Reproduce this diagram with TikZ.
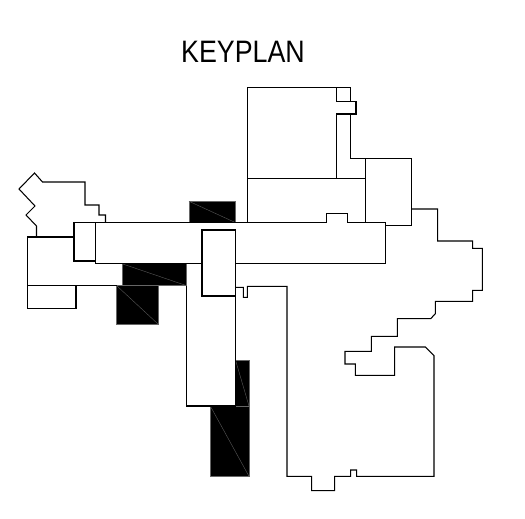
\documentclass[tikz,border=0pt]{standalone}
\usepackage{fontspec}
\setmainfont{Liberation Sans}
\tikzset{
    planline/.style={draw=black, line width=1.05pt, line join=miter},
    blockfill/.style={fill=black, draw=black!60, line width=0.6pt},
    blockdiag/.style={draw=black!65, line width=0.4pt}
}
\begin{document}
\begin{tikzpicture}[x=1pt, y=-1pt]
    \useasboundingbox[fill=white] (0,0) rectangle (525,519);

    % Title
    \node[font=\fontsize{31}{31}\selectfont, inner sep=0pt, xscale=0.865] (title) at (243,52.2) {KEYPLAN};

    % Black blocks
    \fill[blockfill] (189,201.3) rectangle (235.7,222.7);
    \draw[blockdiag] (189,201.3) -- (235.7,222.7);
    \fill[blockfill] (122,263.7) rectangle (186.7,285.7);
    \draw[blockdiag] (122,263.7) -- (186.7,285.7);
    \fill[blockfill] (116.7,285.7) rectangle (158.3,324.3);
    \draw[blockdiag] (116.7,285.7) -- (158.3,324.3);
    \fill[blockfill] (235.7,360.7) rectangle (249,406);
    \draw[blockdiag] (235.7,360.7) -- (249,406);
    \fill[blockfill] (210.3,406) rectangle (249,476.3);
    \draw[blockdiag] (210.3,406) -- (249,476.3);

    % West wing
    \draw[planline] (36.5,237) -- (36.5,226) -- (26,215) -- (35,206) -- (19,189) -- (34.5,173)
        -- (42.5,182) -- (85,182) -- (85,205) -- (99,205) -- (99,215) -- (105.5,215) -- (105.5,222.5);
    \draw[planline] (95.5,222.5) -- (74,222.5) -- (74,261) -- (95.5,261);
    \draw[planline] (74,237) -- (27.5,237) -- (27.5,308.5) -- (76,308.5) -- (76,285.5);
    \draw[planline] (27.5,285.5) -- (116.7,285.5);

    % Corridor
    \draw[planline] (95.5,222.7) -- (326.7,222.7) -- (326.7,213.7) -- (347.7,213.7) -- (347.7,222.7)
        -- (385.7,222.7) -- (385.7,263.5) -- (235.7,263.5);
    \draw[planline] (202,263.5) -- (95.5,263.5) -- (95.5,222.7);

    % Centre boxes
    \draw[planline] (202,230) rectangle (235.7,296);
    \draw[planline] (186.7,285.7) -- (186.7,406) -- (235.7,406) -- (235.7,296);

    % North wing
    \draw[planline] (247.3,222.7) -- (247.3,87.3) -- (350.7,87.3) -- (350.7,101.3);
    \draw[planline] (336.3,87.3) -- (336.3,101.3) -- (356,101.3) -- (356,114) -- (336.3,114) -- (336.3,178.3);
    \draw[planline] (350.7,114) -- (350.7,158.7) -- (411.7,158.7) -- (411.7,225.7) -- (385.7,225.7);
    \draw[planline] (247.3,178.3) -- (365.7,178.3);
    \draw[planline] (365.7,158.7) -- (365.7,222.7);

    % East wing
    \draw[planline] (235.7,287.3) -- (243.3,287.3) -- (243.3,297.3) -- (247.3,297.3) -- (247.3,286.3)
        -- (287,286.3) -- (287,476.3) -- (311.7,476.3) -- (311.7,490.7) -- (334.7,490.7) -- (334.7,476.3)
        -- (350.7,476.3) -- (350.7,470) -- (356.7,470) -- (356.7,476.3) -- (434,476.3) -- (434,355.7)
        -- (425.3,347) -- (394.7,347) -- (394.7,375.3) -- (355.3,375.3) -- (355.3,364) -- (345,364)
        -- (345,351.3) -- (371.3,351.3) -- (371.3,336.3) -- (397.3,336.3) -- (397.3,318.7) -- (430.7,318.7)
        -- (435.3,313.7) -- (435.3,301.3) -- (472.7,301.3) -- (472.7,290.3) -- (482.3,290.3) -- (482.3,248.3)
        -- (472.7,248.3) -- (472.7,241) -- (437.7,241) -- (437.7,209) -- (411.7,209);
\end{tikzpicture}
\end{document}
